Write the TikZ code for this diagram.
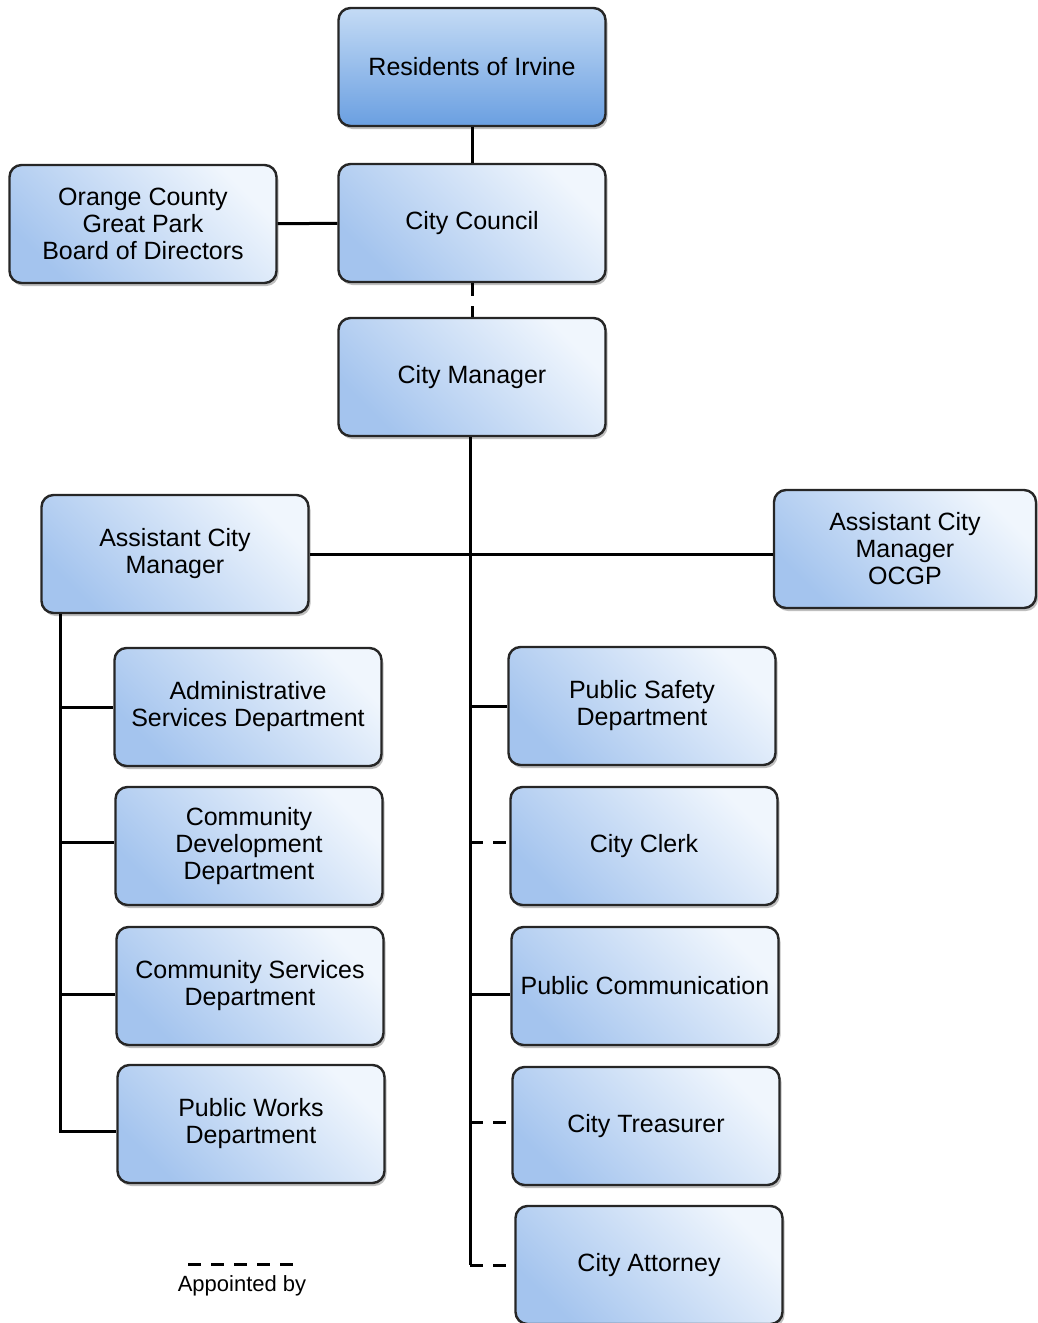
\documentclass[tikz,border=0pt]{standalone}
\usepackage{fontspec}
\setmainfont{Liberation Sans}
\usetikzlibrary{shadows}
\definecolor{boxlight}{HTML}{F0F6FD}
\definecolor{boxdark}{HTML}{A4C4EE}
\definecolor{toplight}{HTML}{C4DBF5}
\definecolor{topdark}{HTML}{6A9FE1}
\definecolor{boxline}{HTML}{262626}
\begin{document}
\begin{tikzpicture}[x=1pt,y=-1pt,
  orgbox/.style={draw=boxline, line width=2.4pt, rounded corners=12pt,
    minimum width=267pt, minimum height=118pt, align=center,
    font=\fontsize{25}{27}\selectfont,
    top color=boxlight, bottom color=boxdark, shading angle=-45,
    drop shadow={shadow xshift=2pt, shadow yshift=-3pt, opacity=0.5}},
  topbox/.style={orgbox, top color=toplight, bottom color=topdark},
  link/.style={line width=3pt},
  appointed/.style={link, dash pattern=on 13pt off 10pt}]
\useasboundingbox (0,0) rectangle (1037,1323);
\node[topbox] (res) at (472,67) {Residents of Irvine};
\node[orgbox] (council) at (472,223) {City Council};
\node[orgbox] (ocgp) at (143,224) {Orange County\\Great Park\\Board of Directors};
\node[orgbox] (cm) at (472,377) {City Manager};
\node[orgbox] (acm) at (175,554) {Assistant City\\Manager};
\node[orgbox, minimum width=262pt] (acmo) at (905,549) {Assistant City\\Manager\\OCGP};
\node[orgbox] (asd) at (248,707) {Administrative\\Services Department};
\node[orgbox] (cdd) at (249,846) {Community\\Development\\Department};
\node[orgbox] (csd) at (250,986) {Community Services\\Department};
\node[orgbox] (pwd) at (251,1124) {Public Works\\Department};
\node[orgbox] (psd) at (642,706) {Public Safety\\Department};
\node[orgbox] (clk) at (644,846) {City Clerk};
\node[orgbox] (pcm) at (645,986) {Public Communication};
\node[orgbox] (trs) at (646,1126) {City Treasurer};
\node[orgbox] (att) at (649,1265) {City Attorney};
\draw[link] (res) -- (council);
\draw[link] (ocgp) -- (council);
\draw[appointed] (council) -- (cm);
\coordinate (cmend) at ([xshift=-2pt]cm.south |- att.west);
\draw[link] ([xshift=-2pt]cm.south) -- (cmend);
\draw[appointed] (cmend) -- (att);
\draw[link] (acm.east) -- (acm.east -| acmo.west);
\coordinate (lt) at ([xshift=20pt]acm.south west);
\coordinate (ltend) at ([yshift=-7pt]lt |- pwd.west);
\draw[link] (lt) -- (ltend) -- (ltend -| pwd.west);
\draw[link] (lt |- asd.west) -- (asd);
\draw[link] ([yshift=4pt]lt |- cdd.west) -- ([yshift=4pt]cdd.west);
\draw[link] ([yshift=-8pt]lt |- csd.west) -- ([yshift=-8pt]csd.west);
\draw[link] (cmend |- psd.west) -- (psd);
\draw[appointed] ([yshift=4pt]cmend |- clk.west) -- ([yshift=4pt]clk.west);
\draw[link] ([yshift=-8pt]cmend |- pcm.west) -- ([yshift=-8pt]pcm.west);
\draw[appointed] ([yshift=4pt]cmend |- trs.west) -- ([yshift=4pt]trs.west);
\coordinate (lga) at (188,1264);
\coordinate (lgb) at (297,1264);
\draw[appointed] (lga) -- (lgb);
\node[font=\fontsize{22}{24}\selectfont] (lgtext) at (242,1286) {Appointed by};
\end{tikzpicture}
\end{document}
